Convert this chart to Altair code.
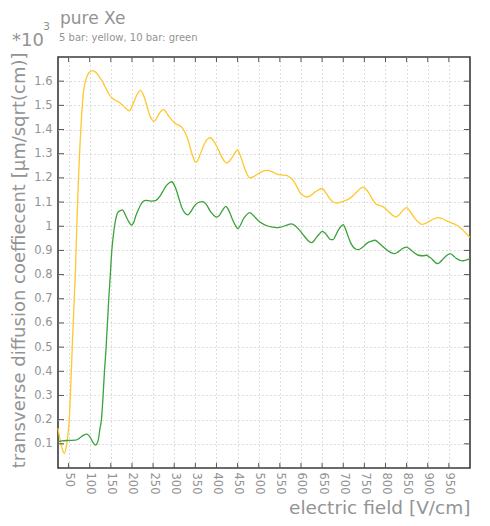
import altair as alt
import pandas as pd

# ---- data (y in units of 10^3) ----
x_5bar = [25, 30, 36, 40, 44.5, 48, 51.6, 55, 58.7, 62, 65.9, 69, 71.4, 74, 77.6, 81, 85, 90, 95, 100,
          108, 115, 121, 127, 133, 139, 145, 152, 159, 166, 172, 178, 184, 189, 193.5, 199, 206, 213,
          220.6, 226, 231.6, 237, 242, 247, 251.6, 257, 263.4, 269, 275.3, 281, 287, 294, 301, 308,
          315, 320, 325, 329, 333, 337, 342, 346, 350, 355, 360, 368, 376, 385.5, 395, 403.7, 413,
          418, 423.5, 430, 437.7, 444, 449.5, 456, 463, 470, 478.8, 488, 498.5, 510, 520.6, 531, 542,
          553, 565.6, 573, 581.4, 589, 597, 605, 614.6, 623, 632.8, 641, 650, 659, 668, 676, 684, 692,
          700, 710, 719.7, 727, 735.5, 742, 747, 754, 761.6, 769, 777, 786, 794.8, 803, 810.6, 817,
          824, 831, 838, 844, 850, 858, 866, 876, 885.6, 895, 905.4, 915, 925, 935, 945, 957, 968.6,
          976, 984, 992, 1000]
y_5bar = [0.165, 0.115, 0.074, 0.06, 0.088, 0.13, 0.2, 0.33, 0.5, 0.64, 0.8, 0.97, 1.1, 1.22, 1.356,
          1.46, 1.55, 1.6, 1.625, 1.638, 1.644, 1.636, 1.623, 1.607, 1.589, 1.568, 1.548, 1.532,
          1.523, 1.516, 1.51, 1.5, 1.49, 1.482, 1.477, 1.49, 1.52, 1.548, 1.562, 1.548, 1.52, 1.488,
          1.459, 1.442, 1.434, 1.442, 1.463, 1.477, 1.482, 1.472, 1.455, 1.44, 1.427, 1.42, 1.414,
          1.405, 1.39, 1.374, 1.356, 1.33, 1.3, 1.28, 1.265, 1.27, 1.29, 1.327, 1.355, 1.366, 1.348,
          1.32, 1.285, 1.27, 1.262, 1.268, 1.286, 1.305, 1.316, 1.295, 1.258, 1.225, 1.2, 1.205,
          1.217, 1.228, 1.231, 1.226, 1.217, 1.212, 1.21, 1.203, 1.19, 1.168, 1.141, 1.127, 1.121,
          1.127, 1.141, 1.15, 1.156, 1.138, 1.114, 1.1, 1.096, 1.099, 1.103, 1.11, 1.121, 1.133,
          1.148, 1.158, 1.162, 1.153, 1.135, 1.112, 1.093, 1.086, 1.08, 1.068, 1.055, 1.045, 1.038,
          1.045, 1.059, 1.07, 1.077, 1.062, 1.041, 1.02, 1.008, 1.012, 1.022, 1.031, 1.036, 1.031,
          1.022, 1.013, 1.004, 0.995, 0.983, 0.968, 0.953]

x_10bar = [25, 34, 50, 66, 72, 77.6, 85, 92, 97, 101.6, 107, 113.4, 117, 121, 124, 127.8, 131.7, 135,
           138.9, 142, 145.2, 148.8, 152.4, 155.5, 158.7, 163, 167, 172, 177, 181, 185.5, 192, 199,
           204, 209, 215, 221, 227, 233, 239, 245, 251, 257, 263, 269, 275, 280.5, 287, 294, 300,
           306, 312, 318, 325, 332, 340, 348, 356, 368, 376, 384, 392, 400, 407, 415, 421.9, 428,
           434, 439, 445, 451, 457, 463, 470, 479, 488, 498.5, 508, 518, 530, 542, 550, 557.7, 567,
           577.5, 587, 597, 605, 613, 619, 625, 631, 637, 644, 650, 657, 664.5, 670, 676, 682, 688,
           694, 700, 706, 712, 718, 723.7, 729, 735.5, 745, 755, 765, 775, 785, 794.8, 805, 814,
           822, 829, 836.6, 843, 850, 858, 866, 877.7, 888, 897.5, 903, 909, 915, 922.7, 930, 937,
           945, 953, 961, 968.6, 975, 982, 990, 1000]
y_10bar = [0.108, 0.112, 0.114, 0.115, 0.119, 0.126, 0.135, 0.14, 0.136, 0.126, 0.108, 0.095, 0.1,
           0.122, 0.16, 0.2, 0.3, 0.4, 0.5, 0.6, 0.7, 0.8, 0.9, 0.955, 1.0, 1.04, 1.058, 1.064,
           1.068, 1.06, 1.042, 1.02, 1.005, 1.015, 1.042, 1.068, 1.09, 1.103, 1.107, 1.106, 1.104,
           1.105, 1.107, 1.117, 1.132, 1.15, 1.166, 1.178, 1.184, 1.171, 1.145, 1.11, 1.077, 1.055,
           1.047, 1.062, 1.084, 1.097, 1.102, 1.09, 1.066, 1.048, 1.038, 1.045, 1.068, 1.082, 1.07,
           1.045, 1.024, 1.003, 0.99, 1.005, 1.028, 1.045, 1.056, 1.043, 1.024, 1.012, 1.003, 0.997,
           0.994, 0.995, 0.999, 1.005, 1.01, 1.001, 0.983, 0.965, 0.948, 0.937, 0.932, 0.94, 0.955,
           0.969, 0.979, 0.972, 0.955, 0.945, 0.945, 0.962, 0.983, 0.998, 1.007, 0.985, 0.956, 0.93,
           0.914, 0.906, 0.903, 0.912, 0.928, 0.937, 0.942, 0.93, 0.914, 0.9, 0.89, 0.887, 0.893,
           0.903, 0.91, 0.914, 0.905, 0.893, 0.88, 0.878, 0.88, 0.874, 0.866, 0.855, 0.845, 0.853,
           0.866, 0.879, 0.887, 0.877, 0.866, 0.86, 0.857, 0.86, 0.866]

series_names = ["5 bar", "10 bar"]
series_colors = ["#FFC72C", "#3AA33A"]

x_ticks = [50, 100, 150, 200, 250, 300, 350, 400, 450, 500, 550, 600, 650, 700, 750, 800, 850, 900, 950]
y_ticks = [0.1, 0.2, 0.3, 0.4, 0.5, 0.6, 0.7, 0.8, 0.9, 1.0, 1.1, 1.2, 1.3, 1.4, 1.5, 1.6]

title_text = "pure Xe"
subtitle_text = "5 bar: yellow, 10 bar: green"
mult_text = "*10"
exp_text = "3"
x_title = "electric field [V/cm]"
y_title = "transverse diffusion coeffiecent [\u03bcm/sqrt(cm)]"

# ---- build table ----
df = pd.concat([
    pd.DataFrame({"field": x_5bar, "diff": y_5bar, "series": series_names[0]}),
    pd.DataFrame({"field": x_10bar, "diff": y_10bar, "series": series_names[1]}),
])

W, H = 412, 411
FONT = "DejaVu Sans"
GRAY = "#939393"

xs = alt.Scale(domain=[25, 1000], nice=False, zero=False)
ys = alt.Scale(domain=[0, 1.7], nice=False, zero=False)

x_axis = alt.Axis(values=x_ticks, grid=True, gridDash=[1, 3], gridColor="#bdbdbd", gridWidth=1,
                  domain=False, ticks=False, labelAngle=90, labelAlign="left",
                  labelBaseline="middle", labelPadding=4, labelFontSize=11.5, labelColor=GRAY,
                  labelFont=FONT, title=x_title, titleFont=FONT, titleFontSize=18.5,
                  titleFontWeight="normal", titleColor=GRAY, titleX=W, titleY=45,
                  titleAlign="right", titleBaseline="alphabetic", labelFlush=False,
                  labelOverlap=False)
y_axis = alt.Axis(values=y_ticks, grid=True, gridDash=[1, 3], gridColor="#bdbdbd", gridWidth=1,
                  domain=False, ticks=False, format=".2~f", labelPadding=6, labelFontSize=11.5,
                  labelColor=GRAY, labelFont=FONT, title=y_title, titleFont=FONT,
                  titleFontSize=18, titleFontWeight="normal", titleColor=GRAY, titleX=-34,
                  titleY=-5, titleAngle=-90, titleAlign="right", titleBaseline="alphabetic",
                  labelFlush=False, labelOverlap=False)

lines = alt.Chart(df).mark_line(interpolate="monotone", strokeWidth=1.3).encode(
    x=alt.X("field:Q", scale=xs, axis=x_axis),
    y=alt.Y("diff:Q", scale=ys, axis=y_axis),
    color=alt.Color("series:N", scale=alt.Scale(domain=series_names, range=series_colors),
                    legend=None),
    detail="series:N",
)

xt = pd.DataFrame({"v": x_ticks})
yt = pd.DataFrame({"v": y_ticks})
TICK = "#555555"
tick_bottom = alt.Chart(xt).mark_rule(color=TICK, strokeWidth=1).encode(
    x=alt.X("v:Q", scale=xs, axis=x_axis), y=alt.value(H), y2=alt.value(H - 5))
tick_top = alt.Chart(xt).mark_rule(color=TICK, strokeWidth=1).encode(
    x=alt.X("v:Q", scale=xs, axis=x_axis), y=alt.value(0), y2=alt.value(5))
tick_left = alt.Chart(yt).mark_rule(color=TICK, strokeWidth=1).encode(
    y=alt.Y("v:Q", scale=ys, axis=y_axis), x=alt.value(0), x2=alt.value(6))
tick_right = alt.Chart(yt).mark_rule(color=TICK, strokeWidth=1).encode(
    y=alt.Y("v:Q", scale=ys, axis=y_axis), x=alt.value(W), x2=alt.value(W - 6))


def label(txt, x, y, size, align="left"):
    return alt.Chart(alt.Data(values=[{"t": txt}])).mark_text(
        font=FONT, fontSize=size, color=GRAY, align=align, baseline="alphabetic"
    ).encode(text="t:N", x=alt.value(x), y=alt.value(y))


t_title = label(title_text, 2, -33, 17)
t_sub = label(subtitle_text, 1, -16, 10)
t_mult = label(mult_text, -46, -11, 18)
t_exp = label(exp_text, -15, -27, 11)

chart = alt.layer(
    lines, tick_bottom, tick_top, tick_left, tick_right, t_title, t_sub, t_mult, t_exp
).properties(
    width=W, height=H,
    padding={"left": 50, "top": 49, "right": 12, "bottom": 50},
    autosize=alt.AutoSizeParams(type="none"),
    background="white",
).configure_view(stroke="#3a3a3a", strokeWidth=1.6)

chart.save("out.html", embed_options={"renderer": "svg", "actions": False})
